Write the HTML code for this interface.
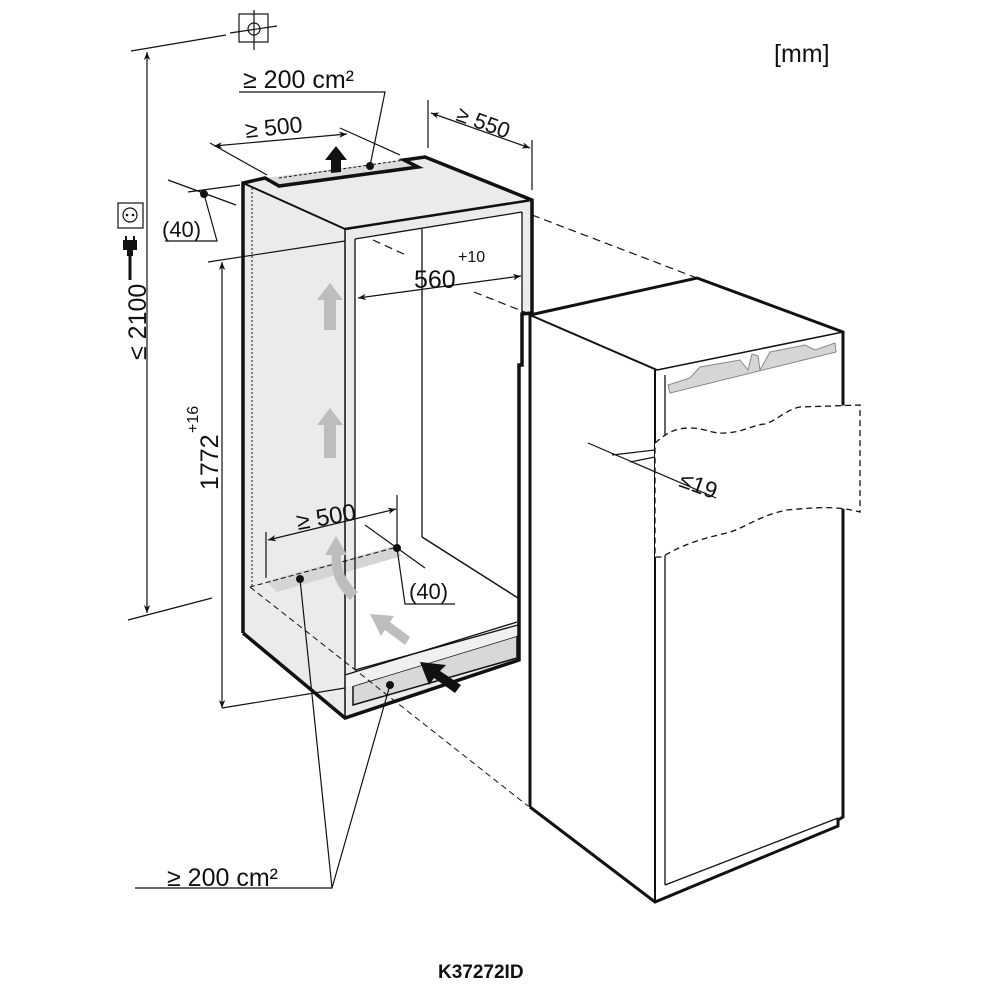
<!DOCTYPE html>
<html><head><meta charset="utf-8"><style>
html,body{margin:0;padding:0;background:#fff}
svg{display:block}
text{font-family:"Liberation Sans",sans-serif;fill:#111}
</style></head><body>
<svg width="1000" height="1000" viewBox="0 0 1000 1000" xmlns="http://www.w3.org/2000/svg">
<defs>
<marker id="a" viewBox="0 0 10 10" refX="10" refY="5" markerWidth="15" markerHeight="8" orient="auto-start-reverse" markerUnits="userSpaceOnUse"><path d="M0,1 L10,5 L0,9 L3,5 Z" fill="#111"/></marker>
</defs>

<polygon points="243,183 265,178 279,186 418,167 404,160 425,157 532,200 532,313 522,314 519,365 520,660 345,718 243,633" fill="#ebebeb"/>
<polygon points="355,239 522,212 518,625 355,670" fill="#fff"/>
<polygon points="265,178 279,186 418,167 404,160" fill="#dcdcdc"/>
<polygon points="353,686 517,636 517,658 353,705" fill="#d8d8d8" stroke="#111" stroke-width="1.5"/>
<polygon points="345,675 517,622 517,636 353,686 345,688" fill="#f0f0f0"/>
<polygon points="266,581 277,592 402,556 395,546" fill="#d5d5d5"/>

<g fill="none" stroke="#111">
<polyline points="243,633 243,183 265,178 279,186 418,167 404,160 425,157 532,200 532,313 522,314 522,365 519,365 519,660 345,718 243,633" stroke-width="3.5"/>
<line x1="243" y1="183" x2="345" y2="229" stroke-width="2"/>
<line x1="345" y1="229" x2="532" y2="200" stroke-width="2.5"/>
<line x1="345" y1="229" x2="345" y2="718" stroke-width="1.5"/>
<line x1="355" y1="239" x2="355" y2="670" stroke-width="1.3"/>
<line x1="355" y1="239" x2="522" y2="212" stroke-width="1.3"/>
<line x1="522" y1="212" x2="522" y2="313" stroke-width="1.3"/>
<line x1="422" y1="229" x2="422" y2="537" stroke-width="1.3"/>
<line x1="422" y1="537" x2="518" y2="598" stroke-width="1.5"/>
<line x1="355" y1="670" x2="518" y2="625" stroke-width="1.3"/>
<line x1="345" y1="675" x2="517" y2="622" stroke-width="1.3"/>
<line x1="252" y1="188" x2="252" y2="588" stroke-width="1" stroke-dasharray="2,2"/>
<line x1="250" y1="587" x2="528" y2="806" stroke-width="1" stroke-dasharray="6,4"/>
<line x1="250" y1="587" x2="397" y2="547" stroke-width="1" stroke-dasharray="5,3"/>
<line x1="279" y1="178" x2="404" y2="160" stroke-width="1" stroke-dasharray="3,2"/>
<line x1="532" y1="215" x2="697" y2="278" stroke-width="1.2" stroke-dasharray="8,5"/>
<line x1="474" y1="292" x2="532" y2="315" stroke-width="1.2" stroke-dasharray="8,5"/>
<line x1="373" y1="240" x2="408" y2="256" stroke-width="1.2" stroke-dasharray="8,5"/>

<polygon points="530,315 697,278 843,332 843,817 838,826 655,902 530,807" fill="#fff" stroke="none"/>
<polyline points="530,807 530,315 697,278 843,332 843,817 838,820 838,826 655,902 530,807" stroke-width="3"/>
<line x1="530" y1="315" x2="657" y2="370" stroke-width="2"/>
<line x1="657" y1="370" x2="843" y2="332" stroke-width="1.5"/>
<line x1="655" y1="370" x2="655" y2="902" stroke-width="2"/>
<line x1="665" y1="375" x2="665" y2="885" stroke-width="1.3"/>
<line x1="665" y1="885" x2="838" y2="818" stroke-width="1.3"/>
</g>
<polygon points="668,385 690,378 700,367 740,360 748,370 752,354 758,356 760,370 770,352 805,345 815,350 835,343 836,352 670,393" fill="#d6d6d6" stroke="#888" stroke-width="1"/>
<path d="M655,443 C665,435 672,428 690,428 C705,428 712,434 725,433 C745,432 752,425 765,424 C778,420 785,410 800,407 L860,405 L860,512 C835,505 810,508 787,510 C760,515 745,528 727,533 C705,538 685,543 662,557 L655,557 Z" fill="#fff" stroke="#111" stroke-width="1.3" stroke-dasharray="6,4"/>

<g fill="#bdbdbd">
<path d="M324,330 L324,300 L317,300 L330,283 L343,300 L336,300 L336,330 Z"/>
<path d="M324,458 L324,425 L317,425 L330,408 L343,425 L336,425 L336,458 Z"/>
<path d="M350,600 C335,585 330,570 332,555 L325,555 L336,536 L347,555 L341,555 C340,568 345,580 358,592 Z"/>
<path d="M405,645 L385,630 L381,636 L370,614 L394,616 L390,622 L410,637 Z"/>
</g>
<path d="M455,693 L434,678 L429,685 L420,662 L446,665 L440,671 L461,685 Z" fill="#111"/>
<path d="M331,173 L331,160 L325,160 L336,146 L347,160 L341,160 L341,172 Z" fill="#111"/>

<g fill="#111">
<circle cx="370" cy="166" r="4"/><circle cx="204" cy="194" r="4"/>
<circle cx="300" cy="579" r="4"/><circle cx="397" cy="548" r="4"/><circle cx="390" cy="685" r="4"/>
</g>

<g fill="none" stroke="#111" stroke-width="1.2">
<rect x="239" y="14" width="29" height="28"/>
<circle cx="254" cy="29" r="6"/>
<line x1="254" y1="10" x2="254" y2="50"/>
<line x1="230" y1="33" x2="277" y2="26"/>
<line x1="131" y1="51" x2="226" y2="35"/>
<line x1="147" y1="52" x2="147" y2="613" marker-start="url(#a)" marker-end="url(#a)"/>
<line x1="128" y1="620" x2="212" y2="598"/>
<rect x="118" y="203" width="25" height="25"/>
<circle cx="130" cy="215" r="7"/>
<line x1="222" y1="262" x2="222" y2="708" marker-start="url(#a)" marker-end="url(#a)"/>
<line x1="208" y1="262" x2="345" y2="241"/>
<line x1="222" y1="708" x2="345" y2="688"/>
<line x1="210" y1="143" x2="267" y2="175"/>
<line x1="340" y1="128" x2="400" y2="155"/>
<line x1="214" y1="146" x2="347" y2="134" marker-start="url(#a)" marker-end="url(#a)"/>
<polyline points="239,92 385,92 370,166"/>
<line x1="168" y1="180" x2="236" y2="205"/>
<line x1="188" y1="192" x2="240" y2="185"/>
<polyline points="204,194 217,241 165,241"/>
<line x1="428" y1="100" x2="428" y2="148"/>
<line x1="532" y1="140" x2="532" y2="190"/>
<line x1="431" y1="113" x2="530" y2="148" marker-start="url(#a)" marker-end="url(#a)"/>
<line x1="358" y1="298" x2="521" y2="276" marker-start="url(#a)" marker-end="url(#a)"/>
<line x1="266" y1="532" x2="266" y2="578"/>
<line x1="397" y1="495" x2="397" y2="545"/>
<line x1="268" y1="540" x2="396" y2="509" marker-start="url(#a)" marker-end="url(#a)"/>
<line x1="365" y1="525" x2="425" y2="568"/>
<polyline points="397,548 405,604 455,604"/>
<polyline points="135,888 332,888 300,579"/>
<line x1="332" y1="888" x2="390" y2="685"/>
<line x1="588" y1="443" x2="716" y2="498"/>
<line x1="612" y1="455" x2="655" y2="450"/>
<line x1="630" y1="462" x2="655" y2="457"/>
</g>
<path d="M123,240 h14 v10 h-4 v6 h-6 v-6 h-4 Z" fill="#111"/>
<line x1="130" y1="256" x2="130" y2="280" stroke="#111" stroke-width="3"/>
<line x1="126" y1="236" x2="126" y2="241" stroke="#111" stroke-width="2"/>
<line x1="134" y1="236" x2="134" y2="241" stroke="#111" stroke-width="2"/>
<circle cx="127" cy="215" r="1.3" fill="#111"/><circle cx="133" cy="215" r="1.3" fill="#111"/>

<text x="774" y="62" font-size="25">[mm]</text>
<text x="438" y="978" font-size="19" font-weight="bold">K37272ID</text>
<text x="243" y="88" font-size="25">≥ 200 cm²</text>
<text x="246" y="138" font-size="23" transform="rotate(-6 246 138)">≥ 500</text>
<text x="162" y="237" font-size="22">(40)</text>
<text x="455" y="120" font-size="22" transform="rotate(20 455 120)">≥ 550</text>
<text x="414" y="288" font-size="25">560</text>
<text x="458" y="262" font-size="16">+10</text>
<text x="146" y="360" font-size="25" transform="rotate(-90 146 360)">≤ 2100</text>
<text x="218" y="490" font-size="25" transform="rotate(-90 218 490)">1772</text>
<text x="198" y="433" font-size="16" transform="rotate(-90 198 433)">+16</text>
<text x="298" y="530" font-size="24" transform="rotate(-10 298 530)">≥ 500</text>
<text x="409" y="599" font-size="22">(40)</text>
<text x="167" y="886" font-size="25">≥ 200 cm²</text>
<text x="678" y="486" font-size="23" transform="rotate(20 678 486)">≤19</text>
</svg>
</body></html>
